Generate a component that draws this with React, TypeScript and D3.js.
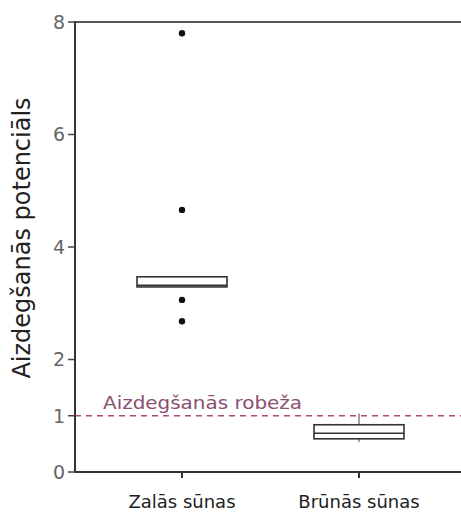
import React from "react";
import * as d3 from "d3";

const categories = ["Zalās sūnas", "Brūnās sūnas"];
const q1 = [3.29, 0.59];
const median = [3.32, 0.69];
const q3 = [3.47, 0.84];
const whiskerLow = [3.29, 0.53];
const whiskerHigh = [3.47, 1.04];
const outliers: number[][] = [[7.8, 4.66, 3.06, 2.68], []];
const yTicks = [0, 1, 2, 4, 6, 8];
const thresholdValue = 1;
const thresholdLabel = "Aizdegšanās robeža";
const yTitle = "Aizdegšanās potenciāls";

export default function App() {
  const W = 461, H = 517;
  const left = 75, top = 22, bottom = 472;
  const y = d3.scaleLinear().domain([0, 8]).range([bottom, top]);
  const x = d3.scalePoint().domain(categories).range([182, 359]);
  const cx = (c: string) => x(c) as number;
  const boxW = 90;
  const font = "DejaVu Sans, Verdana, sans-serif";
  return (
    <svg width={W} height={H} style={{ position: "absolute", left: 0, top: 0, background: "#fff" }}>
      <line x1={left} x2={W} y1={y(thresholdValue)} y2={y(thresholdValue)} stroke="#b04a6a" strokeWidth={1.5} strokeDasharray="6,5" />
      <text x={103} y={y(thresholdValue) - 7} fontFamily={font} fontSize={18.5} fill="#8a4e72" textLength={199} lengthAdjust="spacingAndGlyphs">{thresholdLabel}</text>
      {categories.map((c, i) => {
        const X = cx(c);
        return (
          <g key={c}>
            <line x1={X} x2={X} y1={y(whiskerHigh[i])} y2={y(q3[i])} stroke="#444" strokeWidth={1} />
            <line x1={X} x2={X} y1={y(q1[i])} y2={y(whiskerLow[i])} stroke="#444" strokeWidth={1} />
            <rect x={X - boxW / 2} y={y(q3[i])} width={boxW} height={y(q1[i]) - y(q3[i])} fill="#fff" stroke="#333" strokeWidth={1.6} />
            <line x1={X - boxW / 2} x2={X + boxW / 2} y1={y(median[i])} y2={y(median[i])} stroke="#333" strokeWidth={1.6} />
            {outliers[i].map((v, j) => (
              <circle key={j} cx={X} cy={y(v)} r={3.2} fill="#111" />
            ))}
            <line x1={X} x2={X} y1={bottom} y2={bottom + 6} stroke="#333" strokeWidth={2} />
            <text x={X} y={508} textAnchor="middle" fontFamily={font} fontSize={18} fill="#222">{c}</text>
          </g>
        );
      })}
      <line x1={left} x2={W} y1={top} y2={top} stroke="#555" strokeWidth={2} />
      <line x1={left} x2={W} y1={bottom} y2={bottom} stroke="#333" strokeWidth={2} />
      <line x1={left} x2={left} y1={top - 1} y2={bottom + 1} stroke="#333" strokeWidth={2} />
      {yTicks.map((t) => (
        <g key={t}>
          <line x1={left - 7} x2={left} y1={y(t)} y2={y(t)} stroke="#444" strokeWidth={1.5} />
          <text x={left - 10} y={y(t)} dy="0.36em" textAnchor="end" fontFamily={font} fontSize={19} fill="#666">{t}</text>
        </g>
      ))}
      <text transform={`translate(30, 238) rotate(-90)`} textAnchor="middle" fontFamily={font} fontSize={24} fill="#222">{yTitle}</text>
    </svg>
  );
}
